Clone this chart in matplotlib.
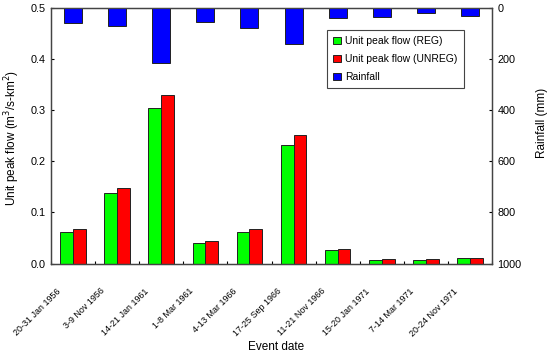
import matplotlib
matplotlib.use("Agg")
import matplotlib.pyplot as plt
import matplotlib.transforms as mtransforms
import numpy as np

events = ["20-31 Jan 1956", "3-9 Nov 1956", "14-21 Jan 1961", "1-8 Mar 1961",
          "4-13 Mar 1966", "17-25 Sep 1966", "11-21 Nov 1966", "15-20 Jan 1971",
          "7-14 Mar 1971", "20-24 Nov 1971"]
flow_reg = [0.062, 0.138, 0.305, 0.040, 0.062, 0.232, 0.027, 0.007, 0.007, 0.010]
flow_unreg = [0.067, 0.148, 0.330, 0.044, 0.067, 0.252, 0.028, 0.009, 0.009, 0.010]
rainfall = [60, 72, 215, 54, 80, 140, 39, 37, 20, 33]

plt.rcParams['font.family'] = ['Liberation Sans', 'DejaVu Sans']
plt.rcParams['font.size'] = 7.5

x = np.arange(len(events))
w = 0.29

fig = plt.figure(figsize=(5.5, 3.55), dpi=100)
ax = fig.add_axes([51 / 550, 1 - 263.5 / 355, 441 / 550, 255.5 / 355])
ax2 = ax.twinx()

b1 = ax.bar(x - w / 2, flow_reg, w, color="#00ff00", edgecolor="#222222", linewidth=0.7,
            label="Unit peak flow (REG)")
b2 = ax.bar(x + w / 2, flow_unreg, w, color="#ff0000", edgecolor="#222222", linewidth=0.7,
            label="Unit peak flow (UNREG)")
b3 = ax2.bar(x, rainfall, 0.41, color="#0000ff", edgecolor="#222222", linewidth=0.7,
             label="Rainfall")

ax.set_xlim(-0.5, len(events) - 0.5)
ax.set_ylim(0, 0.5)
ax.set_yticks([0.0, 0.1, 0.2, 0.3, 0.4, 0.5])
ax.set_yticklabels(["0.0", "0.1", "0.2", "0.3", "0.4", "0.5"])
ax2.set_ylim(1000, 0)
ax2.set_yticks([0, 200, 400, 600, 800, 1000])

# group boundaries get the tick marks, event names sit at the group centres
ax.set_xticks(np.arange(len(events) + 1) - 0.5)
ax.set_xticklabels([])
ax.set_xticks(x, minor=True)
ax.set_xticklabels(events, minor=True, rotation=45, ha="right", va="top",
                   rotation_mode="anchor", fontsize=6.4)
ax.tick_params(axis="x", which="minor", length=0, pad=0)
ax.tick_params(axis="x", which="major", direction="in", length=2.5)
ax.tick_params(axis="y", direction="in", length=2.5, pad=4, labelsize=7.8)
ax2.tick_params(axis="y", direction="in", length=2.5, pad=4, labelsize=7.8)

# nudge the rotated labels down-left like the original
shift = mtransforms.ScaledTranslation(-17 / 100, -23 / 100, fig.dpi_scale_trans)
for lab in ax.get_xticklabels(minor=True):
    lab.set_transform(lab.get_transform() + shift)

for a in (ax, ax2):
    for s in a.spines.values():
        s.set_color("#444444")
        s.set_linewidth(0.9)

ax.set_ylabel("Unit peak flow (m$^3$/s-km$^2$)", fontsize=8.5)
ax.yaxis.set_label_coords(-29 / 441, 0.49)
ax2.set_ylabel("Rainfall (mm)", fontsize=8.5)
ax2.yaxis.set_label_coords(1 + 44 / 441, 0.55)
ax.set_xlabel("Event date", fontsize=8.5)
ax.xaxis.set_label_coords(0.51, -77 / 255.5)

leg = ax2.legend(handles=[b1, b2, b3], loc="upper left", bbox_to_anchor=(271 / 441, 1 - 17 / 255.5),
                 fancybox=False, handlelength=0.7, handleheight=0.7, handletextpad=0.4,
                 borderpad=0.6, labelspacing=0.75, framealpha=1)
leg.get_frame().set_edgecolor("#444444")
leg.get_frame().set_linewidth(0.8)

plt.savefig("out.png", dpi=100)
